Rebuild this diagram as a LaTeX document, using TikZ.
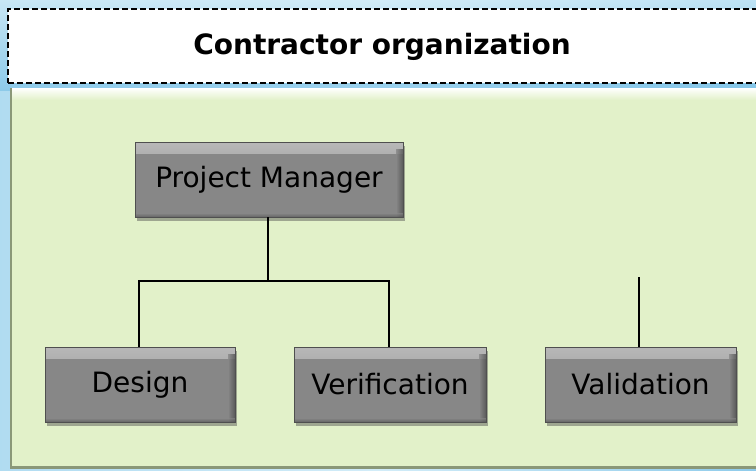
\documentclass[tikz,border=0pt]{standalone}
\usepackage{fontspec}
\setmainfont{DejaVu Sans}
\usetikzlibrary{shadows,calc}
\definecolor{bgtop}{HTML}{D2ECF8}
\definecolor{bgbot}{HTML}{7EC3E7}
\definecolor{panelgreen}{HTML}{E2F1C9}
\definecolor{paneledge}{HTML}{8A9878}
\definecolor{boxgray}{HTML}{878787}
\definecolor{boxlight}{HTML}{B8B8B8}
\definecolor{boxedge}{HTML}{4F4F4F}
\tikzset{
  orgbox/.style={draw=boxedge, line width=0.8pt, fill=boxgray,
    minimum width=#1, minimum height=75pt, inner sep=0pt,
    font=\fontsize{28}{32}\selectfont, text=black,
    drop shadow={shadow xshift=2pt, shadow yshift=-4pt, opacity=0.45, fill=black!70},
    path picture={
      \shade[top color=boxlight, bottom color=boxgray]
        ($(path picture bounding box.north west)+(0,0)$) rectangle
        ($(path picture bounding box.north east)+(0,-11pt)$);
      \shade[left color=boxgray, right color=boxedge, opacity=0.8]
        ($(path picture bounding box.north east)+(-7pt,-7pt)$) rectangle
        (path picture bounding box.south east);
      \shade[top color=boxgray, bottom color=boxedge, opacity=0.6]
        ($(path picture bounding box.south west)+(0,4pt)$) rectangle
        (path picture bounding box.south east);
    }},
  orgbox/.default=190pt,
  conn/.style={draw=black, line width=1.8pt},
  titlebox/.style={draw=black, line width=1.8pt, fill=white,
    dash pattern=on 6pt off 3pt},
}
\begin{document}
\begin{tikzpicture}[x=1pt, y=-1pt]
  \useasboundingbox (0,0) rectangle (756,471);
  % background
  \shade[left color=bgtop!60!bgbot, right color=bgbot!80!bgtop, middle color=bgtop] (0,0) rectangle (756,471);
  \shade[top color=bgtop, bottom color=bgbot, opacity=0.7] (0,0) rectangle (756,90);
  % title box
  \node[titlebox, minimum width=770pt, minimum height=74pt, anchor=north west, inner sep=0pt] (title) at (7,8) {};
  \node[font=\bfseries\fontsize{28}{32}\selectfont, text=black] (titletext) at (382,47) {Contractor organization};
  % green panel
  \fill[paneledge] (10,88) rectangle (770,469);
  \fill[panelgreen] (12,88) rectangle (770,466);
  \shade[top color=white, bottom color=panelgreen] (12,88) rectangle (770,100);
  % boxes
  \node[orgbox=268pt] (pm) at (269,179.5) {Project Manager};
  \node[orgbox] (design) at (140,384.5) {Design};
  \node[orgbox=192pt] (verif) at (390,384.5) {Verification};
  \node[orgbox=191pt] (valid) at (640.5,384.5) {Validation};
  % connectors
  \coordinate (bus) at (268,281);
  \coordinate (vtop) at (639,277);
  \draw[conn] ([xshift=-1pt]pm.south) -- (bus);
  \draw[conn] ([xshift=-1pt]design.north) |- (bus) -| ([xshift=-1pt]verif.north);
  \draw[conn] (vtop) -- (vtop |- valid.north);
\end{tikzpicture}
\end{document}
